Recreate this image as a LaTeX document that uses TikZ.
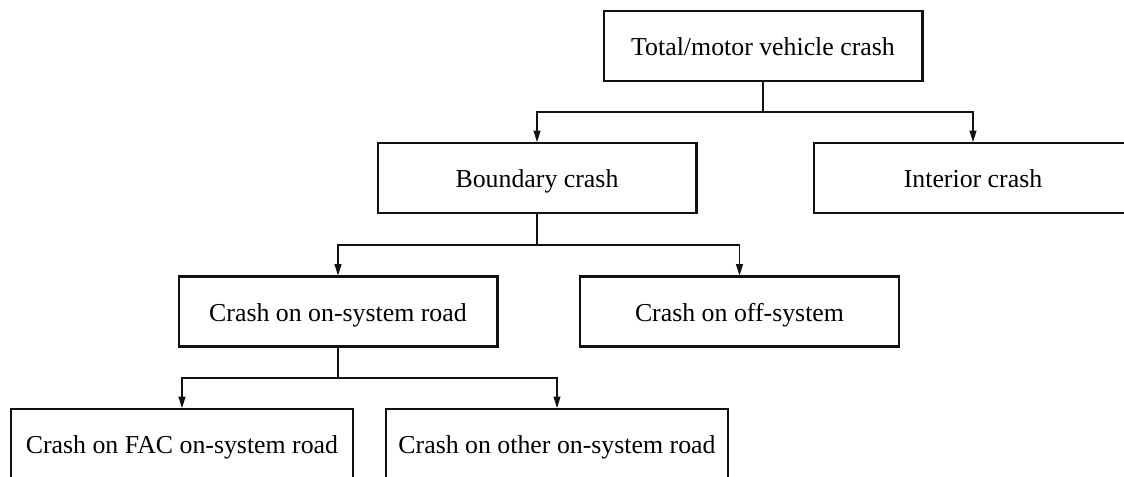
\documentclass[tikz,border=0pt]{standalone}
\usepackage{fontspec}
\setmainfont{Liberation Serif}
\usepackage{tikz}
\usetikzlibrary{arrows.meta, positioning, calc}
\definecolor{inkblack}{HTML}{111111}
\tikzset{
  crashbox/.style={draw=inkblack, line width=1.3pt, minimum width=181.4pt, minimum height=39.7pt, inner sep=0pt, text height=11pt, text depth=0pt, font=\fontsize{14.7pt}{17pt}\selectfont},
  widebox/.style={crashbox, minimum width=195pt},
  link/.style={draw=inkblack, line width=0.6pt, -{Triangle[length=6.5pt,width=4pt]}},
  trunk/.style={draw=inkblack, line width=0.6pt}
}

\begin{document}
\begin{tikzpicture}[x=0.02cm, y=-0.02cm]
    \useasboundingbox (0,0) rectangle (1124,476);
    \clip (0,0) rectangle (1124,476);
    % crash categories, top to bottom
    \node[crashbox] (total) at (763,46) {Total/motor vehicle crash};
    \node[crashbox] (boundary) at (537,178) {Boundary crash};
    \node[crashbox] (interior) at (973,178) {Interior crash};
    \node[crashbox] (onsys) at (338,311.5) {Crash on on-system road};
    \node[crashbox] (offsys) at (739.5,311.5) {Crash on off-system};
    \node[widebox] (facroad) at (182,444) {Crash on FAC on-system road};
    \node[widebox] (otherroad) at (557,444) {Crash on other on-system road};
    % split points
    \coordinate (split1) at (763,112);
    \coordinate (split2) at (537,245);
    \coordinate (split3) at (338,378);
    \draw[trunk] (total.south) -- (split1);
    \draw[link] (split1) -| (boundary.north);
    \draw[link] (split1) -| (interior.north);
    \draw[trunk] (boundary.south) -- (split2);
    \draw[link] (split2) -| (onsys.north);
    \draw[link] (split2) -| (offsys.north);
    \draw[trunk] (onsys.south) -- (split3);
    \draw[link] (split3) -| (facroad.north);
    \draw[link] (split3) -| (otherroad.north);
  \end{tikzpicture}
\end{document}
